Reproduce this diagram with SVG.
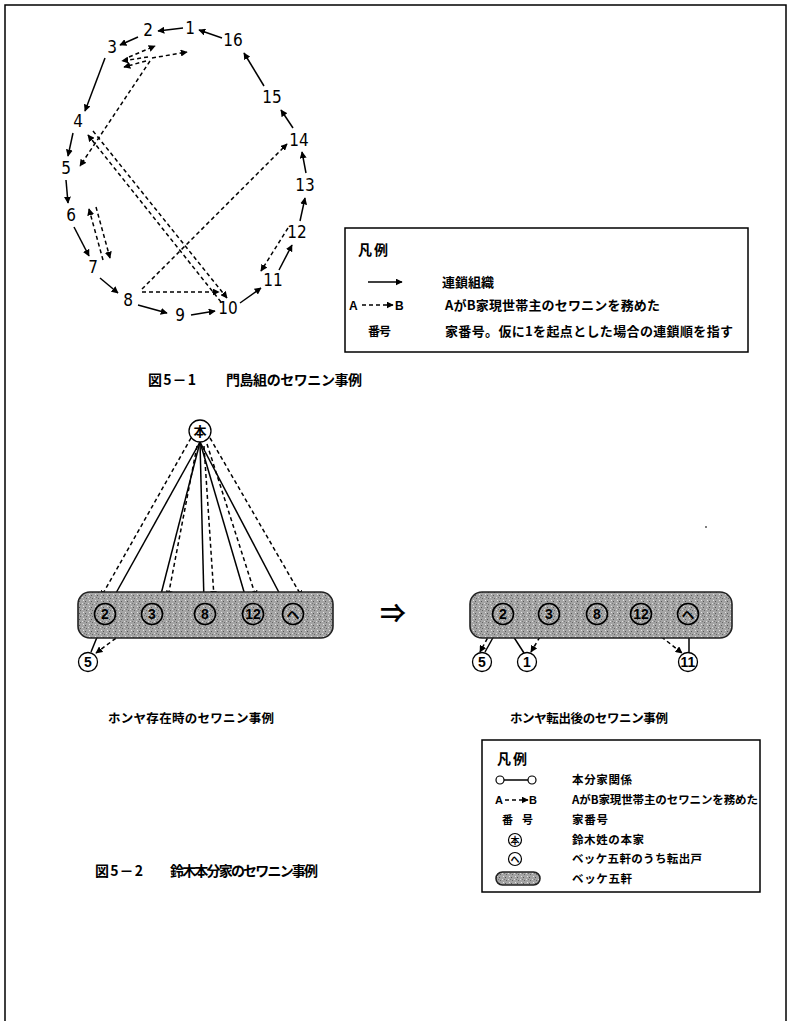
<svg xmlns="http://www.w3.org/2000/svg" width="790" height="1021" viewBox="0 0 790 1021">
<style>
.num{font-family:"Liberation Sans Narrow","DejaVu Sans Condensed","Liberation Sans",sans-serif;font-size:17px;text-anchor:middle;fill:#000}
.jp{font-family:"Noto Sans CJK JP","Noto Sans",sans-serif;font-weight:bold;fill:#000}
.lat{font-family:"Liberation Sans",Arial,sans-serif;font-weight:bold;fill:#000}
.sa{stroke:#000;stroke-width:1.5;fill:none;marker-end:url(#ah)}
.s{stroke:#000;stroke-width:1.5;fill:none}
.d{stroke:#000;stroke-width:1.5;fill:none;stroke-dasharray:4 3;marker-end:url(#ah)}
.bar{fill:url(#tex);stroke:#222;stroke-width:1.6}
.cn{fill:url(#tex);stroke:#000;stroke-width:1.6}
.cw{fill:#fff;stroke:#000;stroke-width:1.3}
.cnum{font-family:"Liberation Sans",Arial,sans-serif;font-weight:bold;font-size:14px;text-anchor:middle;fill:#000}
</style>
<defs>
<marker id="ah" viewBox="0 0 10 10" refX="9" refY="5" markerWidth="7" markerHeight="7" markerUnits="userSpaceOnUse" orient="auto"><path d="M0,0 L10,5 L0,10 z" fill="#000"/></marker>
<pattern id="tex" width="6" height="6" patternUnits="userSpaceOnUse"><rect width="6" height="6" fill="#a4a4a4"/><rect x="1" y="1" width="1" height="1" fill="#555"/><rect x="4" y="3" width="1" height="1" fill="#ddd"/><rect x="2" y="4" width="1" height="1" fill="#666"/><rect x="5" y="0" width="1" height="1" fill="#e6e6e6"/><rect x="0" y="3" width="1" height="1" fill="#777"/></pattern>
</defs>
<rect x="5" y="5" width="781" height="1030" fill="none" stroke="#000" stroke-width="1.5"/>

<g id="fig1-nodes">
<g id="n1"><text class="num" x="190" y="34">1</text></g>
<g id="n2"><text class="num" x="148" y="36">2</text></g>
<g id="n3"><text class="num" x="112" y="53">3</text></g>
<g id="n4"><text class="num" x="78" y="127">4</text></g>
<g id="n5"><text class="num" x="66" y="174">5</text></g>
<g id="n6"><text class="num" x="71" y="221">6</text></g>
<g id="n7"><text class="num" x="93" y="273">7</text></g>
<g id="n8"><text class="num" x="128" y="306">8</text></g>
<g id="n9"><text class="num" x="180" y="321">9</text></g>
<g id="n10"><text class="num" x="228" y="314">10</text></g>
<g id="n11"><text class="num" x="273" y="286">11</text></g>
<g id="n12"><text class="num" x="297" y="238">12</text></g>
<g id="n13"><text class="num" x="305" y="191">13</text></g>
<g id="n14"><text class="num" x="299" y="146">14</text></g>
<g id="n15"><text class="num" x="272" y="103">15</text></g>
<g id="n16"><text class="num" x="233" y="46">16</text></g>
</g>
<g id="fig1-connectors">
<path class="sa" d="M183,28 L158,31"/>
<path class="sa" d="M138,37 L120,45"/>
<path class="sa" d="M105,58 L85,111"/>
<path class="sa" d="M73,133 L68,156"/>
<path class="sa" d="M66,180 L68,203"/>
<path class="sa" d="M74,227 L89,256"/>
<path class="sa" d="M100,278 L118,293"/>
<path class="sa" d="M138,305 L167,313"/>
<path class="sa" d="M191,315 L215,311"/>
<path class="sa" d="M240,303 L261,288"/>
<path class="sa" d="M279,270 L292,245"/>
<path class="sa" d="M300,221 L305,198"/>
<path class="sa" d="M306,173 L302,152"/>
<path class="sa" d="M293,128 L281,110"/>
<path class="sa" d="M264,86 L244,53"/>
<path class="sa" d="M222,38 L199,30"/>
<path class="d" d="M129,57 L155,46"/>
<path class="d" d="M148,57 L122,61"/>
<path class="d" d="M146,61 L124,67"/>
<path class="d" d="M152,58 L187,52"/>
<path class="d" d="M150,61 L80,166"/>
<path class="d" d="M221,302 L88,135"/>
<path class="d" d="M93,131 L227,298"/>
<path class="d" d="M142,289 L287,144"/>
<path class="d" d="M142,292 L219,292"/>
<path class="d" d="M103,260 L89,209"/>
<path class="d" d="M96,207 L110,258"/>
<path class="d" d="M288,228 L261,271"/>
</g>

<g id="legend1">
<rect x="345" y="228" width="403" height="124" fill="none" stroke="#000" stroke-width="1.5"/>
<text class="jp" x="358" y="255" font-size="14" textLength="30">凡例</text>
<path class="sa" d="M368,282 L402,282"/>
<text class="jp" x="442" y="287" font-size="13" textLength="52">連鎖組織</text>
<text class="lat" x="349" y="310" font-size="12">A</text>
<path class="d" d="M362,305 L393,305"/>
<text class="lat" x="395" y="310" font-size="12">B</text>
<text class="jp" x="445" y="310" font-size="13" textLength="215">AがB家現世帯主のセワニンを務めた</text>
<text class="jp" x="368" y="336" font-size="12" textLength="23">番号</text>
<text class="jp" x="445" y="336" font-size="13" textLength="288">家番号。仮に1を起点とした場合の連鎖順を指す</text>
</g>

<g id="caption1">
<text class="jp" x="148" y="385" font-size="14" textLength="48">図5－1</text>
<text class="jp" x="226" y="385" font-size="14" textLength="136">門島組のセワニン事例</text>
</g>

<g id="fig2-connectors">
<path class="s" d="M200,442 L111,602"/>
<path class="s" d="M200,442 L159,602"/>
<path class="s" d="M200,442 L204,602"/>
<path class="s" d="M200,442 L247,602"/>
<path class="s" d="M200,442 L284,602"/>
<path class="d" d="M191,438 L101,597"/>
<path class="d" d="M197,446 L168,597"/>
<path class="d" d="M204,446 L214,597"/>
<path class="d" d="M207,444 L256,597"/>
<path class="d" d="M210,438 L302,597"/>
<path class="s" d="M102,625 L91,652"/>
<path class="d" d="M127,630 L96,653"/>
<path class="s" d="M500,625 L485,652"/>
<path class="d" d="M494,626 L480,652"/>
<path class="s" d="M506,625 L524,653"/>
<path class="d" d="M547,625 L531,652"/>
<path class="d" d="M645,624 L682,653"/>
<path class="s" d="M689,625 L689,652"/>
<path class="d" d="M516,607 L538,607"/>
<path class="d" d="M538,621 L516,621"/>
<path class="d" d="M675,614 L654,614"/>
</g>

<g id="fig2-left">
<rect class="bar" x="78" y="592" width="255" height="46" rx="12"/>
<g id="honke"><circle cx="200" cy="431" r="11" class="cw"/><text class="jp" x="200" y="436" font-size="13" text-anchor="middle">本</text></g>
<g id="L2"><circle cx="105" cy="614" r="10.5" class="cn"/><text class="cnum" x="105" y="619">2</text></g>
<g id="L3"><circle cx="152" cy="614" r="10.5" class="cn"/><text class="cnum" x="152" y="619">3</text></g>
<g id="L8"><circle cx="205" cy="614" r="10.5" class="cn"/><text class="cnum" x="205" y="619">8</text></g>
<g id="L12"><circle cx="253" cy="614" r="10.5" class="cn"/><text class="cnum" x="253" y="619" font-size="12">12</text></g>
<g id="LHe"><circle cx="293" cy="614" r="10.5" class="cn"/><text class="jp" x="293" y="619" font-size="13" text-anchor="middle">ヘ</text></g>
<g id="L5"><circle cx="88" cy="662" r="9.5" class="cw"/><text class="cnum" x="88" y="667" font-weight="normal">5</text></g>
</g>

<g id="arrow-between"><text class="jp" x="393" y="623" font-size="26" text-anchor="middle" font-weight="normal">⇒</text></g>

<g id="fig2-right">
<rect class="bar" x="470" y="592" width="262" height="46" rx="12"/>
<g id="R2"><circle cx="503" cy="614" r="10.5" class="cn"/><text class="cnum" x="503" y="619">2</text></g>
<g id="R3"><circle cx="549" cy="614" r="10.5" class="cn"/><text class="cnum" x="549" y="619">3</text></g>
<g id="R8"><circle cx="597" cy="614" r="10.5" class="cn"/><text class="cnum" x="597" y="619">8</text></g>
<g id="R12"><circle cx="641" cy="614" r="10.5" class="cn"/><text class="cnum" x="641" y="619" font-size="12">12</text></g>
<g id="RHe"><circle cx="688" cy="614" r="10.5" class="cn"/><text class="jp" x="688" y="619" font-size="13" text-anchor="middle">ヘ</text></g>
<g id="R5"><circle cx="482" cy="662" r="9.5" class="cw"/><text class="cnum" x="482" y="667" font-weight="normal">5</text></g>
<g id="R1"><circle cx="527" cy="662" r="9.5" class="cw"/><text class="cnum" x="527" y="667" font-weight="normal">1</text></g>
<g id="R11"><circle cx="688" cy="662" r="9.5" class="cw"/><text class="cnum" x="688" y="667" font-weight="normal" font-size="12">11</text></g>
</g>
<circle cx="706" cy="527" r="1" fill="#555"/>

<g id="captions2">
<text class="jp" x="108" y="723" font-size="12.5" textLength="166">ホンヤ存在時のセワニン事例</text>
<text class="jp" x="510" y="723" font-size="12.5" textLength="158">ホンヤ転出後のセワニン事例</text>
</g>

<g id="legend2">
<rect x="482" y="740" width="278" height="152" fill="none" stroke="#000" stroke-width="1.5"/>
<text class="jp" x="497" y="764" font-size="14" textLength="30">凡例</text>
<circle cx="500" cy="780" r="4" fill="#fff" stroke="#000" stroke-width="1.2"/><path class="s" d="M504,780 L528,780" stroke-width="1.2"/><circle cx="532" cy="780" r="4" fill="#fff" stroke="#000" stroke-width="1.2"/>
<text class="jp" x="572" y="784" font-size="11.5" textLength="60">本分家関係</text>
<text class="lat" x="495" y="804" font-size="11">A</text>
<path class="d" d="M505,800 L528,800"/>
<text class="lat" x="529" y="804" font-size="11">B</text>
<text class="jp" x="572" y="804" font-size="11.5" textLength="186">AがB家現世帯主のセワニンを務めた</text>
<text class="jp" x="502" y="824" font-size="11">番</text><text class="jp" x="522" y="824" font-size="11">号</text>
<text class="jp" x="572" y="824" font-size="11.5" textLength="36">家番号</text>
<circle cx="515" cy="840" r="6.5" fill="#fff" stroke="#000" stroke-width="1.2"/><text class="jp" x="515" y="843.5" font-size="9" text-anchor="middle">本</text>
<text class="jp" x="572" y="844" font-size="11.5" textLength="72">鈴木姓の本家</text>
<circle cx="515" cy="859" r="6.5" fill="#fff" stroke="#000" stroke-width="1.2"/><text class="jp" x="515" y="862.5" font-size="9" text-anchor="middle">ヘ</text>
<text class="jp" x="572" y="863" font-size="11.5" textLength="130">ベッケ五軒のうち転出戸</text>
<rect x="496" y="872" width="44" height="13" rx="6.5" class="bar"/>
<text class="jp" x="572" y="883" font-size="11.5" textLength="60">ベッケ五軒</text>
</g>

<g id="caption2">
<text class="jp" x="95" y="876" font-size="14" textLength="48">図5－2</text>
<text class="jp" x="170" y="876" font-size="14" textLength="148">鈴木本分家のセワニン事例</text>
</g>
</svg>
